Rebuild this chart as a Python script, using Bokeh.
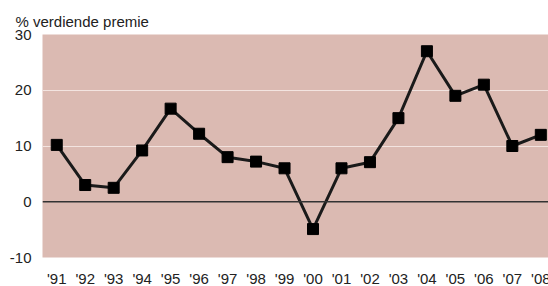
from bokeh.plotting import figure
from bokeh.layouts import column
from bokeh.models import Span, FixedTicker, Range1d
from bokeh.core.properties import value
from bokeh.embed import file_html
from bokeh.resources import INLINE

years = ["'91", "'92", "'93", "'94", "'95", "'96", "'97", "'98", "'99", "'00",
         "'01", "'02", "'03", "'04", "'05", "'06", "'07", "'08"]
values = [10.2, 3.0, 2.5, 9.2, 16.7, 12.2, 8.0, 7.2, 6.0, -4.9,
          6.0, 7.1, 15.0, 27.0, 19.0, 21.0, 10.0, 12.0]
y_ticks = [-10, 0, 10, 20, 30]
y_tick_labels = {-10: "-10", 0: "0", 10: "10", 20: "20", 30: "30"}
title_text = "% verdiende premie"

xs = list(range(len(years)))
Y_MIN, Y_MAX = -10, 30

FONT = "Liberation Sans"
TXT = "#222222"
W = 548
MAIN_H = 266
LABEL_H = 20

x_range = Range1d(-0.5, len(years) - 0.73)

p = figure(width=W, height=MAIN_H, output_backend="svg", toolbar_location=None,
           x_range=x_range, y_range=Range1d(Y_MIN, Y_MAX),
           min_border_left=42, min_border_right=0, min_border_top=34, min_border_bottom=9)

p.border_fill_color = "#ffffff"
p.outline_line_color = None
p.background_fill_color = "#dbbab2"

p.title.text = title_text
p.title.align = "left"
p.title.offset = -27
p.title.text_font = FONT
p.title.text_font_size = "15px"
p.title.text_font_style = "normal"
p.title.text_color = TXT
p.title.standoff = 10

p.xgrid.grid_line_color = None
p.ygrid.grid_line_color = "#f3e4e0"
p.ygrid.grid_line_width = 1

p.xaxis.visible = False
p.yaxis.ticker = FixedTicker(ticks=y_ticks)
p.yaxis.major_label_overrides = y_tick_labels
ax = p.yaxis
ax.axis_line_color = None
ax.major_tick_line_color = None
ax.minor_tick_line_color = None
ax.major_tick_in = 0
ax.major_tick_out = 0
ax.minor_tick_in = 0
ax.minor_tick_out = 0
ax.major_label_text_font = FONT
ax.major_label_text_font_size = "15px"
ax.major_label_text_color = TXT
ax.major_label_standoff = 11

p.add_layout(Span(location=0, dimension="width", line_color="#333333", line_width=1.5))

p.line(xs, values, line_color="#1a1a1a", line_width=3)
p.scatter(xs, values, marker="square", size=11, fill_color="#000000", line_color="#000000")

# category label row under the plot (shares the x scale)
q = figure(width=W, height=LABEL_H, output_backend="svg", toolbar_location=None,
           x_range=x_range, y_range=Range1d(0, LABEL_H),
           min_border_left=42, min_border_right=0, min_border_top=0, min_border_bottom=0)
q.xaxis.visible = False
q.yaxis.visible = False
q.grid.grid_line_color = None
q.outline_line_color = None
q.background_fill_color = "#ffffff"
q.border_fill_color = "#ffffff"
q.text(x=xs, y=[8] * len(xs), text=years, text_align="center", text_baseline="middle",
       text_font=value(FONT), text_font_size="15px", text_color=TXT)

layout = column(p, q, spacing=0)
open("out.html", "w").write(file_html(layout, INLINE))
